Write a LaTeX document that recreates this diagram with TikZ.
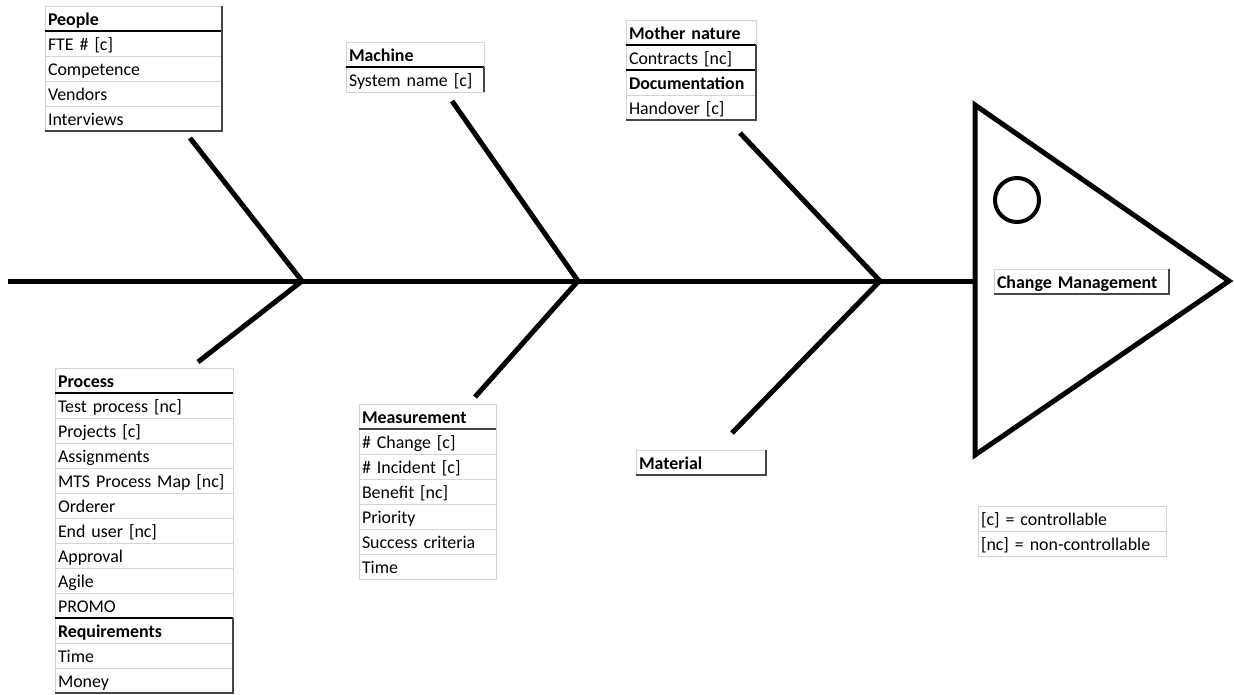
\documentclass[tikz,border=0pt]{standalone}
\usepackage{fontspec}
\setmainfont{Carlito}[WordSpace=0.8]
\definecolor{cellgray}{RGB}{212,212,212}
\definecolor{edgegray}{RGB}{70,70,70}

\begin{document}
\begin{tikzpicture}[x=1pt,y=-1pt,
  font=\fontsize{17.9}{20}\selectfont,
  bone/.style={line width=5pt,line join=miter},
  cell/.style={draw=cellgray,line width=1pt,anchor=north west,inner xsep=3pt,inner ysep=0pt,outer sep=0pt,
    minimum height=25pt,text width=#1,text height=15pt,text depth=1pt,align=left},
  head/.style={cell=#1,font=\fontsize{17.9}{20}\selectfont\bfseries},
  rule/.style={line width=1.2pt,black},
  shade/.style={line width=1.2pt,edgegray}]
\useasboundingbox (0,0) rectangle (1234,694);

% spine and head
\coordinate (tail) at (8,281);
\coordinate (neck) at (975,281);
\coordinate (j1) at (302,281);
\coordinate (j2) at (578,281);
\coordinate (j3) at (880,281);
\draw[bone] (tail) -- (neck);
\draw[bone] (975,105) -- (1229,281) -- (975,455) -- cycle;
\draw[line width=4pt] (1017,200) circle (22);

% bones
\coordinate (b1up) at (190,138);
\coordinate (b1lo) at (198,362);
\coordinate (b2up) at (452,101);
\coordinate (b2lo) at (475,397);
\coordinate (b3up) at (740,133);
\coordinate (b3lo) at (732,433);
\draw[bone] (b1up) -- (j1) -- (b1lo);
\draw[bone] (b2up) -- (j2) -- (b2lo);
\draw[bone] (b3up) -- (j3) -- (b3lo);

% people
\node[head=171pt] (people) at (45,6) {People};
\node[cell=171pt] (fte) at (people.south west) {FTE \# [c]};
\node[cell=171pt] (competence) at (fte.south west) {Competence};
\node[cell=171pt] (vendors) at (competence.south west) {Vendors};
\node[cell=171pt] (interviews) at (vendors.south west) {Interviews};
\draw[rule] (people.south west) -- (people.south east);
\draw[shade] (people.north east) -- (interviews.south east) -- (interviews.south west);

% machine
\node[head=132pt] (machine) at (346,42) {Machine};
\node[cell=132pt] (sysname) at (machine.south west) {System name [c]};
\draw[rule] (machine.south west) -- (machine.south east);
\draw[shade] (sysname.north east) -- (sysname.south east);

% mother nature
\node[head=124pt] (nature) at (626,20) {Mother nature};
\node[cell=124pt] (contracts) at (nature.south west) {Contracts [nc]};
\node[head=124pt] (docu) at (contracts.south west) {Documentation};
\node[cell=124pt] (handover) at (docu.south west) {Handover [c]};
\draw[rule] (nature.south west) -- (nature.south east);
\draw[rule] (contracts.south west) -- (contracts.south east);
\draw[shade] (contracts.north east) -- (handover.south east) -- (handover.south west);

% process
\node[head=172pt] (process) at (55,368) {Process};
\node[cell=172pt] (testproc) at (process.south west) {Test process [nc]};
\node[cell=172pt] (projects) at (testproc.south west) {Projects [c]};
\node[cell=172pt] (assign) at (projects.south west) {Assignments};
\node[cell=172pt] (mts) at (assign.south west) {MTS Process Map [nc]};
\node[cell=172pt] (orderer) at (mts.south west) {Orderer};
\node[cell=172pt] (enduser) at (orderer.south west) {End user [nc]};
\node[cell=172pt] (approval) at (enduser.south west) {Approval};
\node[cell=172pt] (agile) at (approval.south west) {Agile};
\node[cell=172pt] (promo) at (agile.south west) {PROMO};
\node[head=172pt] (require) at (promo.south west) {Requirements};
\node[cell=172pt] (time) at (require.south west) {Time};
\node[cell=172pt] (money) at (time.south west) {Money};
\draw[rule] (process.south west) -- (process.south east);
\draw[rule] (require.north west) -- (require.north east);
\draw[shade] (require.north east) -- (money.south east) -- (money.south west);

% measurement
\node[head=131pt] (measure) at (359,404) {Measurement};
\node[cell=131pt] (change) at (measure.south west) {\# Change [c]};
\node[cell=131pt] (incident) at (change.south west) {\# Incident [c]};
\node[cell=131pt] (benefit) at (incident.south west) {Benefit [nc]};
\node[cell=131pt] (priority) at (benefit.south west) {Priority};
\node[cell=131pt] (success) at (priority.south west) {Success criteria};
\node[cell=131pt] (mtime) at (success.south west) {Time};
\draw[shade] (measure.south west) -- (measure.south east);

% material
\node[head=124pt] (material) at (636,450) {Material};
\draw[shade] (material.north east) -- (material.south east) -- (material.south west);

% effect
\node[head=169pt] (effect) at (994,269) {Change Management};
\draw[shade] (effect.north east) -- (effect.south east) -- (effect.south west);

% legend
\node[cell=182pt] (ctrl) at (978,506) {[c] = controllable};
\node[cell=182pt] (nonctrl) at (ctrl.south west) {[nc] = non-controllable};
\end{tikzpicture}
\end{document}
